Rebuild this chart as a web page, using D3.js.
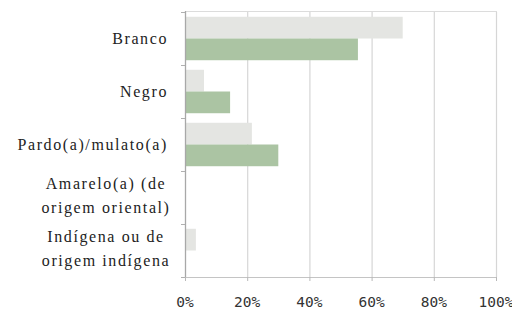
<!DOCTYPE html>
<html>
<head>
<meta charset="utf-8">
<script src="https://cdn.jsdelivr.net/npm/d3@7"></script>
<style>
  body { margin: 0; background: #fff; }
  svg { display: block; }
  .cat-label { font-family: "Liberation Serif", "DejaVu Serif", serif; font-size: 16px; letter-spacing: 1.6px; fill: #222; }
  .tick-label { font-family: "DejaVu Sans Mono", monospace; font-size: 14.5px; fill: #333; }
</style>
</head>
<body>
<svg width="512" height="309"></svg>
<script>
// categories (two text lines each, second may be empty)
const categories = ["Branco", "Negro", "Pardo(a)/mulato(a)", "Amarelo(a) (de", "Indígena ou de"]
const categoryLine2 = ["", "", "", "origem oriental)", "origem indígena"]
// two series, gray first (top bar), green second
const seriesGray = [0.70, 0.061, 0.215, 0, 0.035]
const seriesGreen = [0.556, 0.145, 0.30, 0, 0]
const ticks = [0, 0.2, 0.4, 0.6, 0.8, 1.0]
const tickLabels = ["0%", "20%", "40%", "60%", "80%", "100%"]

const svg = d3.select("svg")
const plotLeft = 185, plotRight = 496, plotTop = 12, plotBottom = 277

const x = d3.scaleLinear().domain([0, 1]).range([plotLeft, plotRight])
const y = d3.scaleBand().domain(d3.range(categories.length)).range([plotTop, plotBottom])
const inner = d3.scaleBand().domain([0, 1]).range([0, y.bandwidth()]).paddingOuter(0.22)

// vertical gridlines
svg.selectAll("line.grid")
  .data(ticks.slice(1))
  .enter().append("line")
  .attr("x1", d => x(d) + 0.5).attr("x2", d => x(d) + 0.5)
  .attr("y1", plotTop).attr("y2", plotBottom)
  .attr("stroke", "#d6d6d6").attr("stroke-width", 1.2)

// top border
svg.append("line")
  .attr("x1", plotLeft).attr("x2", plotRight + 1)
  .attr("y1", plotTop - 0.5).attr("y2", plotTop - 0.5)
  .attr("stroke", "#dcdcdc").attr("stroke-width", 1.2)

// bars
const groups = svg.selectAll("g.cat")
  .data(categories.map((c, i) => i))
  .enter().append("g")
  .attr("transform", i => "translate(0," + y(i) + ")")

groups.append("rect")
  .attr("x", plotLeft + 1)
  .attr("y", inner(0))
  .attr("height", inner.bandwidth())
  .attr("width", i => Math.max(0, x(seriesGray[i]) - plotLeft - 1))
  .attr("fill", "#e4e5e2")

groups.append("rect")
  .attr("x", plotLeft + 1)
  .attr("y", inner(1))
  .attr("height", inner.bandwidth())
  .attr("width", i => Math.max(0, x(seriesGreen[i]) - plotLeft - 1))
  .attr("fill", "#abc4a3")

// axes lines
svg.append("line")
  .attr("x1", plotLeft + 0.5).attr("x2", plotLeft + 0.5)
  .attr("y1", plotTop - 1).attr("y2", plotBottom)
  .attr("stroke", "#a8a8a8").attr("stroke-width", 1.3)
svg.append("line")
  .attr("x1", plotLeft - 4).attr("x2", plotRight + 1)
  .attr("y1", plotBottom + 0.5).attr("y2", plotBottom + 0.5)
  .attr("stroke", "#c4c4c4").attr("stroke-width", 1.2)

// y tick marks at band boundaries
const yTicks = d3.range(categories.length + 1).map(i => i < categories.length ? y(i) : plotBottom)
svg.selectAll("line.ytick")
  .data(yTicks)
  .enter().append("line")
  .attr("x1", plotLeft - 4).attr("x2", plotLeft)
  .attr("y1", d => d + 0.5).attr("y2", d => d + 0.5)
  .attr("stroke", "#b0b0b0")

// x tick marks
svg.selectAll("line.xtick")
  .data(ticks)
  .enter().append("line")
  .attr("x1", d => x(d) + 0.5).attr("x2", d => x(d) + 0.5)
  .attr("y1", plotBottom).attr("y2", plotBottom + 4)
  .attr("stroke", "#b8b8b8")

// x tick labels
svg.selectAll("text.xl")
  .data(ticks)
  .enter().append("text")
  .attr("class", "tick-label")
  .attr("x", d => x(d))
  .attr("y", 307)
  .attr("text-anchor", "middle")
  .text((d, i) => tickLabels[i])

// category labels
groups.each(function(i) {
  const g = d3.select(this)
  const cy = y.bandwidth() / 2
  if (categoryLine2[i] === "") {
    g.append("text").attr("class", "cat-label").attr("x", 168).attr("y", cy + 5)
      .attr("text-anchor", "end").text(categories[i])
  } else {
    g.append("text").attr("class", "cat-label").attr("x", 106).attr("y", cy - 9)
      .attr("text-anchor", "middle").text(categories[i])
    g.append("text").attr("class", "cat-label").attr("x", 106).attr("y", cy + 15)
      .attr("text-anchor", "middle").text(categoryLine2[i])
  }
})
</script>
</body>
</html>
